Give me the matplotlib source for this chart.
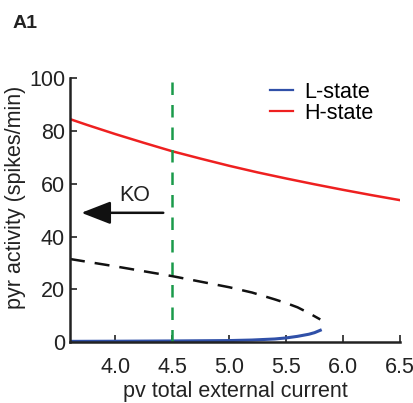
import matplotlib
matplotlib.use("Agg")
import matplotlib.pyplot as plt
import numpy as np

plt.rcParams['font.family'] = ['Liberation Sans', 'DejaVu Sans']

# H-state (stable high branch)
h_x = [3.6, 3.75, 4.0, 4.25, 4.5, 4.75, 5.0, 5.25, 5.5, 5.75, 6.0, 6.25, 6.5]
h_y = [84.5, 82.3, 78.8, 75.5, 72.3, 69.5, 66.8, 64.3, 62.0, 59.8, 57.7, 55.7, 53.8]

# unstable branch (dashed)
u_x = [3.6, 4.0, 4.5, 5.0, 5.2, 5.4, 5.5, 5.6, 5.7, 5.75, 5.8]
u_y = [31.5, 28.7, 25.0, 20.8, 18.8, 16.2, 14.8, 13.2, 11.0, 9.8, 8.6]

# L-state (stable low branch)
l_x = [3.6, 4.0, 4.5, 5.0, 5.2, 5.4, 5.5, 5.6, 5.7, 5.75, 5.8]
l_y = [0.3, 0.35, 0.45, 0.6, 0.8, 1.2, 1.6, 2.2, 3.0, 3.6, 4.5]

ko_x = 4.5
fs = 15.5

fig = plt.figure(figsize=(4.14, 4.03), dpi=100)
ax = fig.add_axes([0.169, 0.151, 0.797, 0.655])

ax.plot(l_x, l_y, color='#3050a8', lw=2.2, label='L-state')
ax.plot(h_x, h_y, color='#ee2020', lw=1.8, label='H-state')
ax.plot(u_x, u_y, color='#111111', lw=1.8, dashes=(6, 4))
ax.plot([ko_x, ko_x], [0, 100], color='#1a9a4a', lw=1.8, dashes=(5, 4))

ax.annotate('', xy=(3.7, 49), xytext=(4.42, 49),
            arrowprops=dict(arrowstyle='-|>,head_length=1.8,head_width=0.7',
                            color='#111111', lw=1.8, shrinkA=0, shrinkB=0))
ax.text(4.17, 55.5, 'KO', fontsize=fs, ha='center', va='center', color='#222222')

ax.set_xlim(3.6, 6.5)
ax.set_ylim(0, 100)
ax.set_xticks([4.0, 4.5, 5.0, 5.5, 6.0, 6.5])
ax.set_xticklabels(['4.0', '4.5', '5.0', '5.5', '6.0', '6.5'])
ax.set_yticks([0, 20, 40, 60, 80, 100])
ax.tick_params(direction='in', labelsize=fs, length=5, width=1.2, colors='#222222')
ax.tick_params(axis='x', pad=11)
for s in ['top', 'right']:
    ax.spines[s].set_visible(False)
for s in ['left', 'bottom']:
    ax.spines[s].set_linewidth(1.8)
    ax.spines[s].set_color('#222222')

ax.set_xlabel('pv total external current', fontsize=fs, color='#222222', labelpad=2)
ax.set_ylabel('pyr activity (spikes/min)', fontsize=fs, color='#222222')
ax.yaxis.set_label_coords(-0.133, 0.55)

leg = ax.legend(loc='upper right', bbox_to_anchor=(0.98, 1.06), frameon=False,
                fontsize=fs, handlelength=1.05, handletextpad=0.55, labelspacing=0.0)
for line in leg.get_lines():
    line.set_linewidth(1.6)

fig.text(0.03, 0.93, 'A1', fontsize=14, fontweight='bold', color='#222222')

fig.savefig('out.png', dpi=100)
